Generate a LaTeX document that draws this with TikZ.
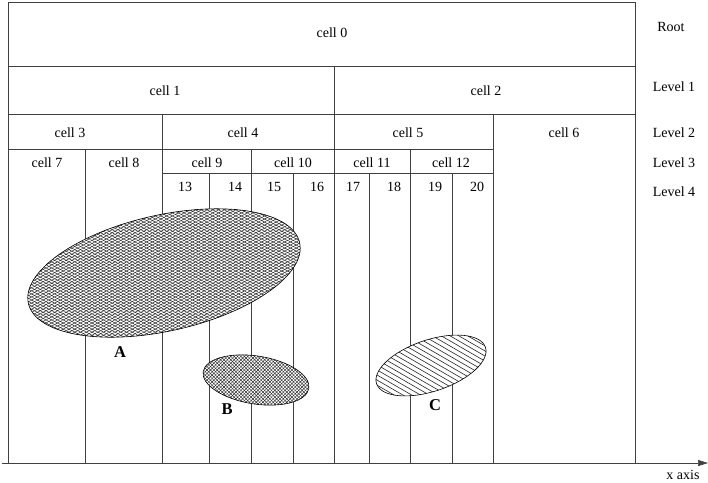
\documentclass[tikz,border=0pt]{standalone}
\usepackage{fontspec}
\setmainfont{Liberation Serif}
\usetikzlibrary{patterns,patterns.meta,arrows.meta}
\begin{document}
\begin{tikzpicture}[x=1pt,y=-1pt,
  grid/.style={draw=black!75,line width=0.55pt},
  lbl/.style={inner sep=0pt,font=\fontsize{14}{16}\selectfont},
  big/.style={inner sep=0pt,font=\fontsize{16.5}{18}\selectfont\bfseries},
  outl/.style={draw=black,line width=0.6pt}]
\useasboundingbox (0,0) rectangle (708,482);
% frame and rows
\draw[grid] (8,463) -- (8,2) -- (635,2) -- (635,463);
\draw[grid] (8,66) -- (635,66);
\draw[grid] (8,114) -- (635,114);
\draw[grid] (8,149) -- (493,149);
\draw[grid] (162,173) -- (493,173);
% verticals
\draw[grid] (85,149) -- (85,463);
\draw[grid] (162,114) -- (162,463);
\draw[grid] (209,173) -- (209,463);
\draw[grid] (251,149) -- (251,463);
\draw[grid] (293,173) -- (293,463);
\draw[grid] (334,66) -- (334,463);
\draw[grid] (369,173) -- (369,463);
\draw[grid] (410,149) -- (410,463);
\draw[grid] (452,173) -- (452,463);
\draw[grid] (493,114) -- (493,463);
% axis
\coordinate (ax0) at (2,463);
\coordinate (ax1) at (708,463);
\draw[grid,-{Triangle[length=10pt,width=6pt]}] (ax0) -- (ax1);
\node[lbl] (xax) at (683,475) {x axis};
% labels
\node[lbl] (c0) at (332,33) {cell 0};
\node[lbl] (c1) at (165,91) {cell 1};
\node[lbl] (c2) at (486,91) {cell 2};
\node[lbl] (c3) at (70,133) {cell 3};
\node[lbl] (c4) at (243,133) {cell 4};
\node[lbl] (c5) at (408,133) {cell 5};
\node[lbl] (c6) at (564,133) {cell 6};
\node[lbl] (c7) at (47,163) {cell 7};
\node[lbl] (c8) at (124,163) {cell 8};
\node[lbl] (c9) at (207,163) {cell 9};
\node[lbl] (c10) at (293,163) {cell 10};
\node[lbl] (c11) at (372,163) {cell 11};
\node[lbl] (c12) at (451,163) {cell 12};
\node[lbl] (n13) at (185,187) {13};
\node[lbl] (n14) at (235,187) {14};
\node[lbl] (n15) at (274,187) {15};
\node[lbl] (n16) at (317,187) {16};
\node[lbl] (n17) at (353,187) {17};
\node[lbl] (n18) at (394,187) {18};
\node[lbl] (n19) at (435,187) {19};
\node[lbl] (n20) at (477,187) {20};
\node[lbl] (root) at (671,27) {Root};
\node[lbl] (l1) at (674,87) {Level 1};
\node[lbl] (l2) at (674,133) {Level 2};
\node[lbl] (l3) at (674,163) {Level 3};
\node[lbl] (l4) at (674,192) {Level 4};
% ellipse A
\fill[white,rotate around={12.6:(164,273)}] (164,273) ellipse [x radius=139, y radius=58];
\fill[pattern={Lines[angle=28,distance=2.7pt,line width=0.5pt]},pattern color=black!85,rotate around={12.6:(164,273)}] (164,273) ellipse [x radius=139, y radius=58];
\draw[outl,pattern={Lines[angle=-28,distance=2.7pt,line width=0.5pt]},pattern color=black!85,rotate around={12.6:(164,273)}] (164,273) ellipse [x radius=139, y radius=58];
% ellipse B
\fill[white,rotate around={-9:(256,380)}] (256,380) ellipse [x radius=53.5, y radius=24];
\fill[pattern={Lines[angle=45,distance=2.4pt,line width=0.45pt]},pattern color=black!85,rotate around={-9:(256,380)}] (256,380) ellipse [x radius=53.5, y radius=24];
\draw[outl,pattern={Lines[angle=-45,distance=2.4pt,line width=0.45pt]},pattern color=black!85,rotate around={-9:(256,380)}] (256,380) ellipse [x radius=53.5, y radius=24];
% ellipse C
\fill[white,rotate around={18.5:(431,365.5)}] (431,365.5) ellipse [x radius=57.4, y radius=25.7];
\begin{scope}
\clip[rotate around={18.5:(431,365.5)}] (431,365.5) ellipse [x radius=57.4, y radius=25.7];
\foreach \i in {-16,...,16}
  \draw[line width=0.6pt,black!85,shift={(431,365.5)},rotate=-30] (-90,\i*4.4) -- (90,\i*4.4);
\end{scope}
\draw[outl,rotate around={18.5:(431,365.5)}] (431,365.5) ellipse [x radius=57.4, y radius=25.7];
% letters
\node[big] (A) at (120,352) {A};
\node[big] (B) at (227,409) {B};
\node[big] (C) at (435,405) {C};
\end{tikzpicture}
\end{document}
